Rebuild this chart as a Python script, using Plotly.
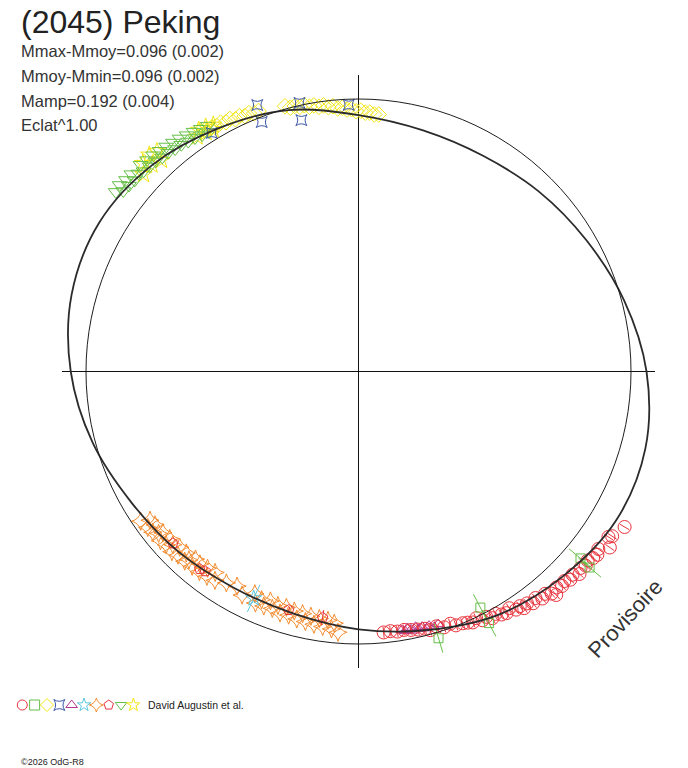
import numpy as np
import plotly.graph_objects as go

W, H = 688, 768

# fitted model curve: screen angle (deg, counter-clockwise from +x), radius relative to mean circle
model_angle = list(range(0, 360, 15))
model_radius = [1.057, 1.009, 0.965, 0.935, 0.914, 0.916, 0.941, 0.993, 1.030, 1.071, 1.097, 1.090,
                1.056, 1.010, 0.962, 0.935, 0.916, 0.920, 0.946, 0.982, 1.030, 1.062, 1.092, 1.090]

# observation sessions (angle in deg, relative radius)
green_tri_angle = [143.5, 142.5, 142, 141, 140.5, 139.5, 139, 138, 137, 136.5, 135.5, 135, 134, 133.5, 132.5,
                   132, 131, 130.5, 129.5, 129, 128, 127.5, 126.5, 126, 125, 124.5, 123.5, 123, 122, 121.5]
green_tri_radius = [1.108, 1.088, 1.112, 1.084, 1.105, 1.080, 1.104, 1.086, 1.078, 1.102, 1.074, 1.097, 1.072,
                    1.094, 1.066, 1.090, 1.064, 1.086, 1.058, 1.081, 1.056, 1.078, 1.050, 1.072, 1.046, 1.068,
                    1.040, 1.062, 1.036, 1.058]

yellow_star_angle = [137.5, 136, 135, 134, 133, 132.5, 124.5, 123.5, 122.5, 122, 121, 120.5]
yellow_star_radius = [1.070, 1.100, 1.072, 1.105, 1.060, 1.095, 1.045, 1.062, 1.040, 1.058, 1.036, 1.050]

yellow_dia_angle = [121, 120, 119, 118, 117, 116, 115, 114, 113, 112, 111, 105.5, 104.5, 103.5, 102.5, 101.5,
                    100.5, 99.5, 98.5, 97.5, 96.5, 95.5, 94.5, 93.5, 92.5, 91.5, 90.5, 89.5, 88.5, 87.5, 86.5, 85.5]
yellow_dia_radius = [1.045, 1.040, 1.044, 1.036, 1.040, 1.030, 1.034, 1.026, 1.030, 1.022, 1.024, 1.010, 1.000,
                     1.002, 0.995, 0.997, 0.988, 0.990, 0.982, 0.985, 0.976, 0.978, 0.968, 0.970, 0.962, 0.963,
                     0.955, 0.957, 0.950, 0.951, 0.945, 0.946]

blue_angle = [121.6, 110.8, 111.2, 102.4, 102.8, 92.1]
blue_radius = [1.028, 1.046, 0.982, 1.009, 0.946, 0.979]

orange_angle = [214.5, 215.5, 216.5, 217, 218, 219, 219.5, 220.5, 221.5, 222, 223, 224, 224.5, 225.5, 226.5,
                227.5, 228, 229, 229.5, 230.5, 231.5, 232.5, 233.5, 234.5, 235.5, 238, 240.5, 242.5, 245, 246,
                247, 248, 249, 250, 251, 252, 253, 254, 255, 256, 257, 258, 259, 260, 261, 262, 263, 264,
                264.5, 265.5]
orange_radius = [0.970, 0.940, 0.962, 0.935, 0.958, 0.944, 0.930, 0.956, 0.925, 0.950, 0.932, 0.952, 0.920,
                 0.945, 0.918, 0.944, 0.930, 0.912, 0.940, 0.915, 0.938, 0.910, 0.935, 0.906, 0.930, 0.915,
                 0.905, 0.925, 0.900, 0.930, 0.910, 0.928, 0.902, 0.925, 0.908, 0.932, 0.905, 0.930, 0.910,
                 0.936, 0.912, 0.938, 0.915, 0.942, 0.918, 0.945, 0.920, 0.950, 0.928, 0.960]

pent_angle = [222.8, 231.2, 232.5, 253.7, 261.7]
pent_radius = [0.928, 0.930, 0.924, 0.912, 0.913]
pent_err = [0.012, 0.012, 0.012, 0.012, 0.028]

cyan_angle = [245.2]
cyan_radius = [0.917]
cyan_err = [0.055]

magenta_angle = [279.5, 280.2, 280.8, 281.5, 282, 282.6, 283.2, 284, 284.8, 285.5, 286.5, 287.5]
magenta_radius = [0.962, 0.968, 0.958, 0.966, 0.972, 0.960, 0.970, 0.965, 0.975, 0.968, 0.978, 0.972]

red_angle = [275.5, 277, 278.5, 280, 281.5, 283, 284.5, 285.5, 287, 288.5, 290, 291, 292.5, 293.5, 294.5,
             295.5, 296.5, 297.5, 298.5, 299.5, 300.5, 301.5, 302.5, 303.5, 304.5, 305, 306, 307, 308, 309,
             310, 311, 311.5, 312.5, 313.5, 314.5, 315.5, 316.5, 317.5, 318.5, 319.5, 320.5, 321.5, 322.5,
             323.5, 325, 326.5, 327, 329.7]
red_radius = [0.962, 0.960, 0.965, 0.963, 0.968, 0.972, 0.975, 0.985, 0.978, 0.990, 0.985, 0.998, 1.000,
              1.005, 1.012, 1.003, 1.020, 1.015, 1.030, 1.022, 1.035, 1.040, 1.030, 1.048, 1.045, 1.060,
              1.052, 1.065, 1.055, 1.072, 1.065, 1.080, 1.095, 1.075, 1.085, 1.078, 1.090, 1.083, 1.100,
              1.088, 1.097, 1.090, 1.100, 1.105, 1.095, 1.126, 1.100, 1.110, 1.131]
red_err = 0.02

square_angle = [297.3, 297.4, 286.7, 319.9, 319.7]
square_radius = [0.975, 1.040, 1.022, 1.065, 1.112]
square_err = 0.055

RED, GREEN, YELLOW, BLUE = "#e8333c", "#66bf48", "#f2e616", "#3b56a6"
MAGENTA, CYAN, ORANGE = "#b23590", "#5cc6dc", "#f38b2e"

series = [
    (yellow_star_angle, yellow_star_radius, None, "star-open", YELLOW, 13),
    (green_tri_angle, green_tri_radius, None, "triangle-down-open", GREEN, 13),
    (yellow_dia_angle, yellow_dia_radius, None, "diamond-open", YELLOW, 12),
    (blue_angle, blue_radius, None, "star-square-open", BLUE, 10),
    (orange_angle, orange_radius, None, "star-diamond-open", ORANGE, 13),
    (pent_angle, pent_radius, pent_err, "pentagon-open", RED, 11),
    (cyan_angle, cyan_radius, cyan_err, "star-open", CYAN, 12),
    (magenta_angle, magenta_radius, None, "triangle-up-open", MAGENTA, 10),
    (red_angle, red_radius, red_err, "circle-open", RED, 13),
    (square_angle, square_radius, square_err, "square-open", GREEN, 9),
]

legend_symbols = ["circle-open", "square-open", "diamond-open", "star-square-open", "triangle-up-open",
                  "star-open", "star-diamond-open", "pentagon-open", "triangle-down-open", "star-open"]
legend_colors = [RED, GREEN, YELLOW, BLUE, MAGENTA, CYAN, ORANGE, RED, GREEN, YELLOW]


def to_xy(angle, radius):
    a = np.radians(np.asarray(angle, float))
    r = np.asarray(radius, float)
    return r * np.cos(a), r * np.sin(a)


def err_lines(angle, radius, err):
    a = np.radians(np.asarray(angle, float))
    r = np.asarray(radius, float)
    e = np.broadcast_to(np.asarray(err, float), r.shape)
    xs, ys = [], []
    for ai, ri, ei in zip(a, r, e):
        xs += [(ri - ei) * np.cos(ai), (ri + ei) * np.cos(ai), None]
        ys += [(ri - ei) * np.sin(ai), (ri + ei) * np.sin(ai), None]
    return xs, ys


fig = go.Figure()

for ang, rad, err, sym, col, size in series:
    if err is not None:
        ex, ey = err_lines(ang, rad, err)
        fig.add_trace(go.Scatter(x=ex, y=ey, mode="lines", line=dict(color=col, width=1),
                                 hoverinfo="skip"))
    x, y = to_xy(ang, rad)
    fig.add_trace(go.Scatter(x=x, y=y, mode="markers",
                             marker=dict(symbol=sym, size=size, color=col, line=dict(width=1, color=col))))

# model curve on top
mx, my = to_xy(model_angle + model_angle[:1], model_radius + model_radius[:1])
fig.add_trace(go.Scatter(x=mx, y=my, mode="lines",
                         line=dict(color="#2b2b2b", width=1.8, shape="spline", smoothing=1)))

# mean circle
fig.add_shape(type="circle", xref="x", yref="y", x0=-1, y0=-1, x1=1, y1=1,
              line=dict(color="#1e1e1e", width=1))

# symbol row
fig.add_trace(go.Scatter(x=list(range(len(legend_symbols))), y=[0] * len(legend_symbols),
                         xaxis="x2", yaxis="y2", mode="markers",
                         marker=dict(symbol=legend_symbols, size=10, color=legend_colors,
                                     line=dict(width=1, color=legend_colors))))

R = 296.5 / 272.5
hidden = dict(showgrid=False, showticklabels=False, ticks="", showline=False)
fig.update_layout(
    width=W, height=H, margin=dict(l=0, r=0, t=0, b=0),
    paper_bgcolor="white", plot_bgcolor="white", showlegend=False,
    xaxis=dict(domain=[62 / W, 655 / W], range=[-R, R], zeroline=True, zerolinecolor="#111",
               zerolinewidth=1, **hidden),
    yaxis=dict(domain=[100 / H, 693 / H], range=[-R, R], zeroline=True, zerolinecolor="#111",
               zerolinewidth=1, **hidden),
    xaxis2=dict(domain=[16.1 / W, 139.6 / W], range=[-0.5, 9.5], zeroline=False, anchor="y2", **hidden),
    yaxis2=dict(domain=[56 / H, 70 / H], range=[-1, 1], zeroline=False, anchor="x2", **hidden),
)


def note(text, x, y, size, color="#333", xanchor="left", angle=0, family="Liberation Sans, Arial"):
    fig.add_annotation(text=text, xref="paper", yref="paper", x=x / W, y=1 - y / H,
                       xanchor=xanchor, yanchor="middle", showarrow=False, textangle=angle,
                       font=dict(size=size, color=color, family=family))


note("(2045) Peking", 19, 22, 32, color="#222")
note("Mmax-Mmoy=0.096 (0.002)", 19, 51, 16.5)
note("Mmoy-Mmin=0.096 (0.002)", 19, 76, 16.5)
note("Mamp=0.192 (0.004)", 19, 101, 16.5)
note("Eclat^1.00", 19, 125, 16.5)
note("Provisoire", 625, 618, 22, xanchor="center", angle=-47)
note("David Augustin et al.", 146, 705, 10.5, color="#222")
note("©2026 OdG-R8", 19, 762, 9, color="#222")

fig.write_html("out.html", config={"displayModeBar": False},
               post_script="document.body.style.margin='0';")
